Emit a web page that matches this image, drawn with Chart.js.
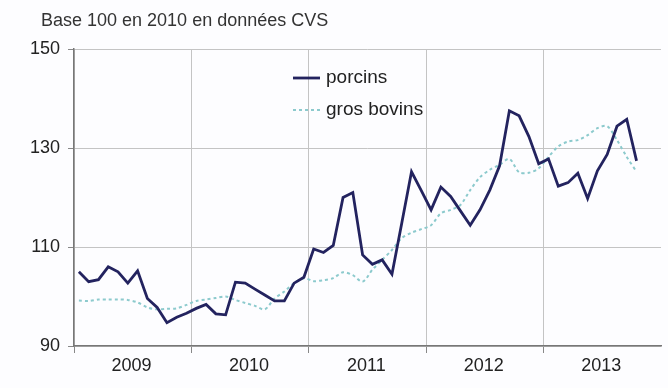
<!DOCTYPE html>
<html>
<head>
<meta charset="utf-8">
<script src="https://cdn.jsdelivr.net/npm/chart.js@4/dist/chart.umd.min.js"></script>
<style>
  html, body { margin: 0; padding: 0; background: #fdfdff; }
  #wrap { width: 668px; height: 388px; }
</style>
</head>
<body>
<div id="wrap"><canvas id="chart"></canvas></div>
<script>
// Monthly indices, Jan 2009 - Oct 2013
const years = ['2009', '2010', '2011', '2012', '2013'];
const months = [];
years.forEach(y => { for (let m = 1; m <= 12; m++) months.push(y + '-' + m); });

const porcins = [
    105, 103, 103.4, 106, 105, 102.7, 105.2, 99.6, 97.8, 94.7, 95.8, 96.6,
    97.6, 98.4, 96.5, 96.3, 102.9, 102.7, 101.5, 100.3, 99.1, 99.1, 102.7, 103.9,
    109.6, 108.9, 110.3, 120, 121, 108.4, 106.5, 107.4, 104.5, 114.8, 125.2, 121.4,
    117.5, 122.1, 120.2, 117.3, 114.4, 117.5, 121.5, 126.4, 137.5, 136.5, 132.3, 126.8,
    127.8, 122.3, 123, 124.9, 119.8, 125.4, 128.7, 134.4, 135.8, 127.4
];
const grosBovins = [
    99.2, 99.1, 99.4, 99.4, 99.4, 99.3, 98.8, 97.8, 97.4, 97.5, 97.6, 98.3,
    99.1, 99.4, 99.7, 100.0, 99.3, 98.7, 98.1, 97.4, 99.6, 101.0, 102.7, 103.7,
    103.1, 103.3, 103.7, 104.9, 104.3, 103.0, 105.4, 107.4, 109.4, 111.8, 112.9, 113.6,
    114.4, 116.8, 117.5, 118.5, 121.5, 124.1, 125.6, 126.6, 127.8, 125.1, 125.0, 125.9,
    128.2, 130.3, 131.3, 131.6, 132.6, 134.0, 134.4, 131.6, 128.2, 125.2
];
const yTicks = [90, 110, 130, 150];

const FONT = '"Liberation Sans", Arial, sans-serif';

// title + legend drawn inside the canvas
const overlay = {
    id: 'overlay',
    afterDraw(chart) {
        const c = chart.ctx;
        c.save();
        c.fillStyle = '#333';
        c.font = '18px ' + FONT;
        c.textBaseline = 'middle';
        c.fillText('Base 100 en 2010 en données CVS', 41, 21);

        const rows = [[78, 0], [110, 1]];
        rows.forEach(([y, i]) => {
            const ds = chart.data.datasets[i];
            c.beginPath();
            c.strokeStyle = ds.borderColor;
            c.lineWidth = ds.borderWidth;
            c.setLineDash(ds.borderDash || []);
            c.moveTo(293, y);
            c.lineTo(320, y);
            c.stroke();
            c.setLineDash([]);
            c.fillStyle = '#222';
            c.font = '19px ' + FONT;
            c.fillText(ds.label, 326, y);
        });
        c.restore();
    }
};

new Chart(document.getElementById('chart'), {
    type: 'line',
    data: {
        labels: months,
        datasets: [
            {
                label: 'porcins',
                data: porcins,
                borderColor: '#23235f',
                borderWidth: 2.8,
                pointRadius: 0,
                tension: 0
            },
            {
                label: 'gros bovins',
                data: grosBovins,
                borderColor: '#8ccacd',
                borderWidth: 2,
                borderDash: [3, 3],
                pointRadius: 0,
                tension: 0.3
            }
        ]
    },
    options: {
        responsive: true,
        maintainAspectRatio: false,
        animation: false,
        layout: { padding: { top: 49, right: 7, left: 28, bottom: 0 } },
        plugins: { legend: { display: false }, tooltip: { enabled: false } },
        scales: {
            x: {
                offset: true,
                afterFit: s => { s.height = 42; },
                grid: {
                    offset: true,
                    tickLength: 7,
                    color: ctx => ctx.index % 12 === 0 ? '#c4c4c4' : 'rgba(0,0,0,0)',
                    tickColor: ctx => ctx.index % 12 === 0 ? '#888' : 'rgba(0,0,0,0)'
                },
                border: { color: '#777', width: 1.5 },
                ticks: {
                    autoSkip: false,
                    maxRotation: 0,
                    labelOffset: -6,
                    padding: 2,
                    color: '#222',
                    font: { family: FONT, size: 18 },
                    callback: (v, i) => i % 12 === 6 ? years[Math.floor(i / 12)] : ''
                }
            },
            y: {
                min: 90,
                max: 150,
                afterFit: s => { s.width = 46; },
                afterBuildTicks: s => { s.ticks = yTicks.map(v => ({ value: v })); },
                grid: { color: '#c4c4c4', tickLength: 6, tickColor: '#888' },
                border: { color: '#777', width: 1.5 },
                ticks: {
                    padding: 8,
                    color: '#222',
                    font: { family: FONT, size: 18 }
                }
            }
        }
    },
    plugins: [overlay]
});
</script>
</body>
</html>
